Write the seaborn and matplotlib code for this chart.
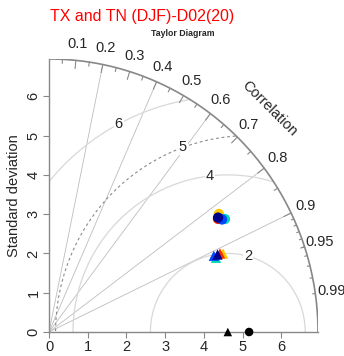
import numpy as np
import pandas as pd
import matplotlib
matplotlib.use("Agg")
import matplotlib.pyplot as plt
import seaborn as sns

# reference (observed) standard deviations, one per variable
variables = ["TX", "TN"]
ref_sd = [5.17, 4.62]

# models: standard deviation and correlation with the reference
models = ["M1", "M2", "M3", "M4", "M5"]
model_colors = ["#FFC800", "#FF2800", "#00D8B0", "#0048FF", "#000088"]
tx_sd = [5.32, 5.23, 5.38, 5.31, 5.25]
tx_corr = [0.825, 0.835, 0.845, 0.842, 0.832]
tn_sd = [4.92, 4.85, 4.71, 4.68, 4.78]
tn_corr = [0.914, 0.911, 0.916, 0.910, 0.911]

# diagram settings
max_sd = 6.95
corr_lines = [0.2, 0.4, 0.6, 0.8, 0.9]
corr_labels = [0.1, 0.2, 0.3, 0.4, 0.5, 0.6, 0.7, 0.8, 0.9, 0.95, 0.99]
rms_levels = [2, 4, 6]      # centred RMS around TN reference
rms_dashed = 5              # dashed contour around TX reference

sns.set_style("ticks")
plt.rcParams["font.family"] = ["Liberation Sans", "DejaVu Sans"]

df = pd.DataFrame({
    "model": models * 2,
    "var": ["TX"] * 5 + ["TN"] * 5,
    "sd": tx_sd + tn_sd,
    "corr": tx_corr + tn_corr,
})
df["x"] = df["sd"] * df["corr"]
df["y"] = df["sd"] * np.sqrt(1 - df["corr"] ** 2)

ref = pd.DataFrame({"var": variables, "x": ref_sd, "y": [0.0, 0.0]})

fig = plt.figure(figsize=(3.44, 3.56), dpi=100)
ax = fig.add_axes([49 / 344, 24 / 356, 269 / 344, 273 / 356])
ax.set_xlim(0, max_sd)
ax.set_ylim(0, max_sd)

t = np.linspace(0, np.pi / 2, 300)

# correlation rays
for c in corr_lines:
    ax.plot([0, max_sd * c], [0, max_sd * np.sqrt(1 - c ** 2)],
            color="#BDBDBD", lw=0.6, zorder=1)


def rms_arc(center, r, **kw):
    th = np.linspace(0, np.pi, 600)
    xs = center + r * np.cos(th)
    ys = r * np.sin(th)
    ok = (xs >= 0) & (xs ** 2 + ys ** 2 <= max_sd ** 2)
    ax.plot(np.where(ok, xs, np.nan), np.where(ok, ys, np.nan), **kw)


label_angle = {2: 75, 4: 96.6, 6: 118}
for g in rms_levels:
    rms_arc(ref_sd[1], g, color="#D8D8D8", lw=0.9, zorder=1)
    a = np.deg2rad(label_angle[g])
    ax.text(ref_sd[1] + g * np.cos(a), g * np.sin(a), str(g), fontsize=10.5,
            ha="center", va="center", zorder=2,
            bbox=dict(facecolor="white", edgecolor="none", pad=0.5))

rms_arc(ref_sd[0], rms_dashed, color="#8A8A8A", lw=0.8, ls=(0, (2.5, 2.5)), zorder=1)
a = np.deg2rad(110)
ax.text(ref_sd[0] + rms_dashed * np.cos(a), rms_dashed * np.sin(a), str(rms_dashed),
        fontsize=10.5, ha="center", va="center", zorder=2,
        bbox=dict(facecolor="white", edgecolor="none", pad=0.5))

# outer arc with correlation ticks
ax.plot(max_sd * np.cos(t), max_sd * np.sin(t), color="#888888", lw=1.2, zorder=3)
for vals, frac in [(np.arange(0.1, 0.91, 0.1), 0.97),
                   (np.arange(0.05, 0.96, 0.1), 0.985),
                   (np.arange(0.91, 0.995, 0.01), 0.99)]:
    for an in np.arccos(vals):
        ax.plot([max_sd * np.cos(an), frac * max_sd * np.cos(an)],
                [max_sd * np.sin(an), frac * max_sd * np.sin(an)],
                color="#888888", lw=0.8, zorder=3)
for c in corr_labels:
    an = np.arccos(c)
    ax.text(1.06 * max_sd * np.cos(an), 1.06 * max_sd * np.sin(an), f"{c:g}",
            fontsize=10.5, ha="center", va="center", clip_on=False)
ax.text(0.82 * max_sd, 0.82 * max_sd, "Correlation", rotation=-45,
        fontsize=10.5, ha="center", va="center")

# model points
sns.scatterplot(data=df, x="x", y="y", hue="model", style="var",
                palette=dict(zip(models, model_colors)),
                markers={"TX": "o", "TN": "^"}, s=55, linewidth=0,
                legend=False, ax=ax, zorder=5)

# reference points
sns.scatterplot(data=ref, x="x", y="y", style="var", color="black",
                markers={"TX": "o", "TN": "^"}, s=38, linewidth=0,
                legend=False, ax=ax, zorder=6)
for coll in ax.collections:
    coll.set_clip_on(False)

sns.despine(ax=ax)
for side in ["left", "bottom"]:
    ax.spines[side].set_color("#888888")
    ax.spines[side].set_linewidth(1.0)
ax.set_xticks(range(0, 7))
ax.set_yticks(range(0, 7))
ax.tick_params(length=4, color="#888888", labelsize=10.5, pad=2)
plt.setp(ax.get_yticklabels(), rotation=90, va="center")
ax.set_xlabel("")
ax.set_ylabel("Standard deviation", fontsize=10.5, labelpad=4)

fig.text(50 / 344, 1 - 16 / 356, "TX and TN (DJF)-D02(20)", color="red",
         fontsize=11.5, ha="left", va="center")
fig.text(183 / 344, 1 - 33 / 356, "Taylor Diagram", fontsize=6.3,
         fontweight="bold", ha="center", va="center")

plt.savefig("out.png", dpi=100)
